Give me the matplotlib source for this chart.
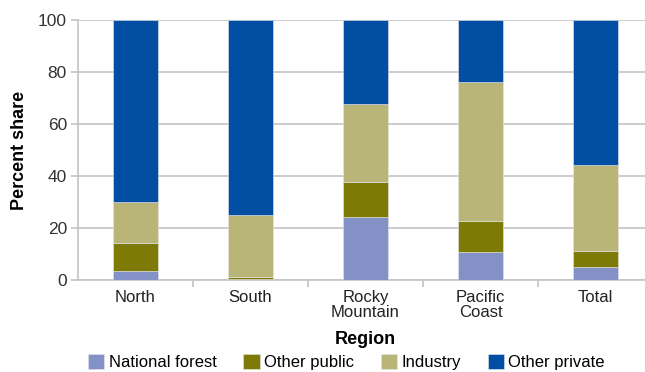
import numpy as np
import matplotlib
matplotlib.use('Agg')
import matplotlib.pyplot as plt

# forest ownership share by region (percent)
regions = ['North', 'South', 'Rocky\nMountain', 'Pacific\nCoast', 'Total']
national_forest = [3.5, 0.2, 24.3, 10.9, 5.0]
other_public = [10.9, 0.8, 13.5, 11.9, 6.3]
industry = [15.6, 24.1, 29.8, 53.5, 33.1]
other_private = [70.0, 74.9, 32.4, 23.7, 55.6]

owners = ['National forest', 'Other public', 'Industry', 'Other private']
colors = ['#8491c7', '#7d7a06', '#b9b578', '#024ea2']
series = [national_forest, other_public, industry, other_private]

plt.rcParams['font.family'] = ['Liberation Sans', 'DejaVu Sans']

fig = plt.figure(figsize=(6.45, 3.72), dpi=100)
ax = fig.add_axes([78 / 645, 1 - 280 / 372, 575 / 645, 260 / 372])

x = np.arange(len(regions))
bottom = np.zeros(len(regions))
for name, vals, c in zip(owners, series, colors):
    ax.bar(x, vals, width=0.39, bottom=bottom, color=c, label=name,
           edgecolor='#e6e6e6', linewidth=0.4, zorder=3)
    bottom += np.array(vals)

grid_c = '#c4c4c4'
ax.set_xlim(-0.5, len(regions) - 0.5)
ax.set_ylim(0, 100)
ax.set_yticks(np.arange(0, 101, 20))
ax.yaxis.grid(True, color=grid_c, linewidth=1.2, zorder=0)
for s in ['top', 'right']:
    ax.spines[s].set_visible(False)
ax.spines['left'].set_color(grid_c)
ax.spines['bottom'].set_color(grid_c)
ax.spines['left'].set_linewidth(1.2)
ax.spines['bottom'].set_linewidth(1.2)

ax.set_xticks(x)
ax.set_xticklabels(regions, fontsize=12, linespacing=1.05)
ax.set_xticks(np.arange(0.5, len(regions) - 1, 1), minor=True)
ax.tick_params(axis='x', which='major', length=0, pad=7)
ax.tick_params(axis='x', which='minor', length=5, color=grid_c, width=1.2)
ax.tick_params(axis='y', length=5, color=grid_c, width=1.2, labelsize=12.5,
               labelcolor='#333333', pad=3)
ax.tick_params(axis='x', labelcolor='#222222')

ax.set_ylabel('Percent share', fontsize=13, fontweight='bold', labelpad=7)
ax.set_xlabel('Region', fontsize=13, fontweight='bold', labelpad=8)

handles, labels = ax.get_legend_handles_labels()
fig.legend(handles, labels, loc='center', bbox_to_anchor=(0.537, 0.027),
           ncol=4, frameon=False, fontsize=12, handlelength=1.0,
           handleheight=1.0, handletextpad=0.25, columnspacing=1.6,
           borderaxespad=0)

fig.savefig('out.png', dpi=100)
